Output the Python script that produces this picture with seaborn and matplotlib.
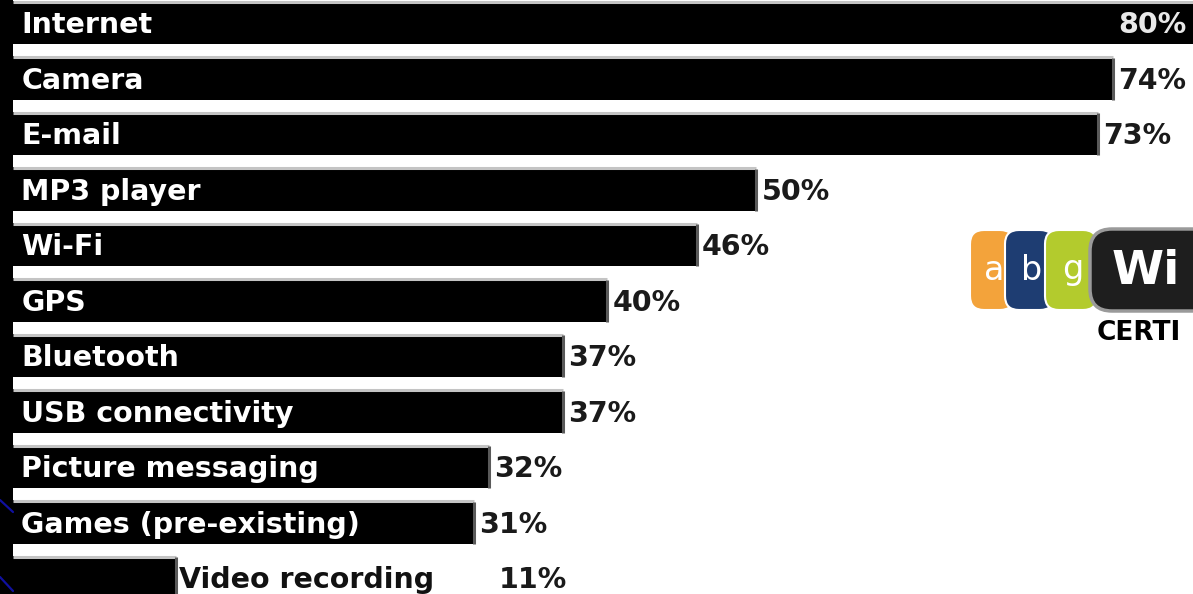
import matplotlib
matplotlib.use("Agg")
import matplotlib.pyplot as plt
import seaborn as sns
import pandas as pd
from matplotlib.patches import FancyBboxPatch
from matplotlib.lines import Line2D

features = ["Internet", "Camera", "E-mail", "MP3 player", "Wi-Fi", "GPS",
            "Bluetooth", "USB connectivity", "Picture messaging",
            "Games (pre-existing)", "Video recording"]
percent = [80, 74, 73, 50, 46, 40, 37, 37, 32, 31, 11]

df = pd.DataFrame({"feature": features, "percent": percent})

sns.set_theme(style="white")
plt.rcParams['font.family'] = ['DejaVu Sans']

W, H = 1193, 594
fig = plt.figure(figsize=(W / 100, H / 100), dpi=100, facecolor="black")
ax = fig.add_axes([13 / W, 0, (W - 13) / W, 1])
ax.set_facecolor("white")

BW = 0.79
sns.barplot(data=df, x="percent", y="feature", order=features, color="black",
            saturation=1, width=BW, orient="h", ax=ax, edgecolor="none")

px_per_unit = 14.86
ax.set_xlim(0, (W - 13) / px_per_unit)
ax.set_ylim(10.297, -0.405)
for s in ax.spines.values():
    s.set_visible(False)
ax.set_xticks([])
ax.set_yticks([])
ax.set_xlabel("")
ax.set_ylabel("")

fs = 20.5
dy = -7.6
for i, (name, v) in enumerate(zip(features, percent)):
    top = i - BW / 2
    ax.hlines(top + 0.02, 0, v, color="#c4c4c4", lw=2.2)
    ax.vlines(v, top + 0.03, i + BW / 2, color="#5a5a5a", lw=2.2)
    xmax = ax.get_xlim()[1]
    if v >= 20:
        ax.annotate(name, (0, i), xytext=(6, dy), textcoords="offset points",
                    color="white", fontsize=fs, fontweight="bold",
                    va="baseline", ha="left")
        if v > xmax:
            ax.annotate(f"{v}%", (xmax, i), xytext=(-5, dy),
                        textcoords="offset points", color="#e8e8e8",
                        fontsize=fs, fontweight="bold", va="baseline", ha="right")
        else:
            ax.annotate(f"{v}%", (v, i), xytext=(4, dy),
                        textcoords="offset points", color="#1a1a1a",
                        fontsize=fs, fontweight="bold", va="baseline", ha="left")
    else:
        ax.annotate(name, (v, i), xytext=(2, dy), textcoords="offset points",
                    color="#111111", fontsize=fs, fontweight="bold",
                    va="baseline", ha="left")
        ax.annotate(f"{v}%", (v, i), xytext=(232, dy),
                    textcoords="offset points", color="#1a1a1a",
                    fontsize=fs, fontweight="bold", va="baseline", ha="left")

# overlay for decoration (Wi-Fi logo and slide lines), pixel coordinates
ov = fig.add_axes([0, 0, 1, 1], facecolor="none")
ov.set_xlim(0, W)
ov.set_ylim(H, 0)
ov.axis("off")

segs = [(970, 1014, "#f3a33b", "a"), (1005, 1054, "#1e3d72", "b"),
        (1045, 1097, "#b3cb2d", "g")]
for x0, x1, c, t in segs:
    ov.add_patch(FancyBboxPatch((x0, 230), x1 - x0, 80,
                                boxstyle="round,pad=0,rounding_size=14",
                                fc=c, ec="white", lw=1.5))
    ov.text((x0 + x1) / 2 + 2, 270, t, color="white", fontsize=24,
            ha="center", va="center", family="DejaVu Sans")
ov.add_patch(FancyBboxPatch((1090, 229), 140, 82,
                            boxstyle="round,pad=0,rounding_size=22",
                            fc="#1e1e1e", ec="#9a9a9a", lw=2.5))
ov.text(1112, 271, "Wi", color="white", fontsize=34, fontweight="bold",
        ha="left", va="center")
ov.text(1097, 333, "CERTI", color="black", fontsize=19, fontweight="bold",
        ha="left", va="center")

ov.add_line(Line2D([0, 13], [500, 512], color="#1010a0", lw=1.6))
ov.add_line(Line2D([0, 13], [577, 591], color="#1010a0", lw=1.6))

fig.savefig("out.png", dpi=100, facecolor="black")
